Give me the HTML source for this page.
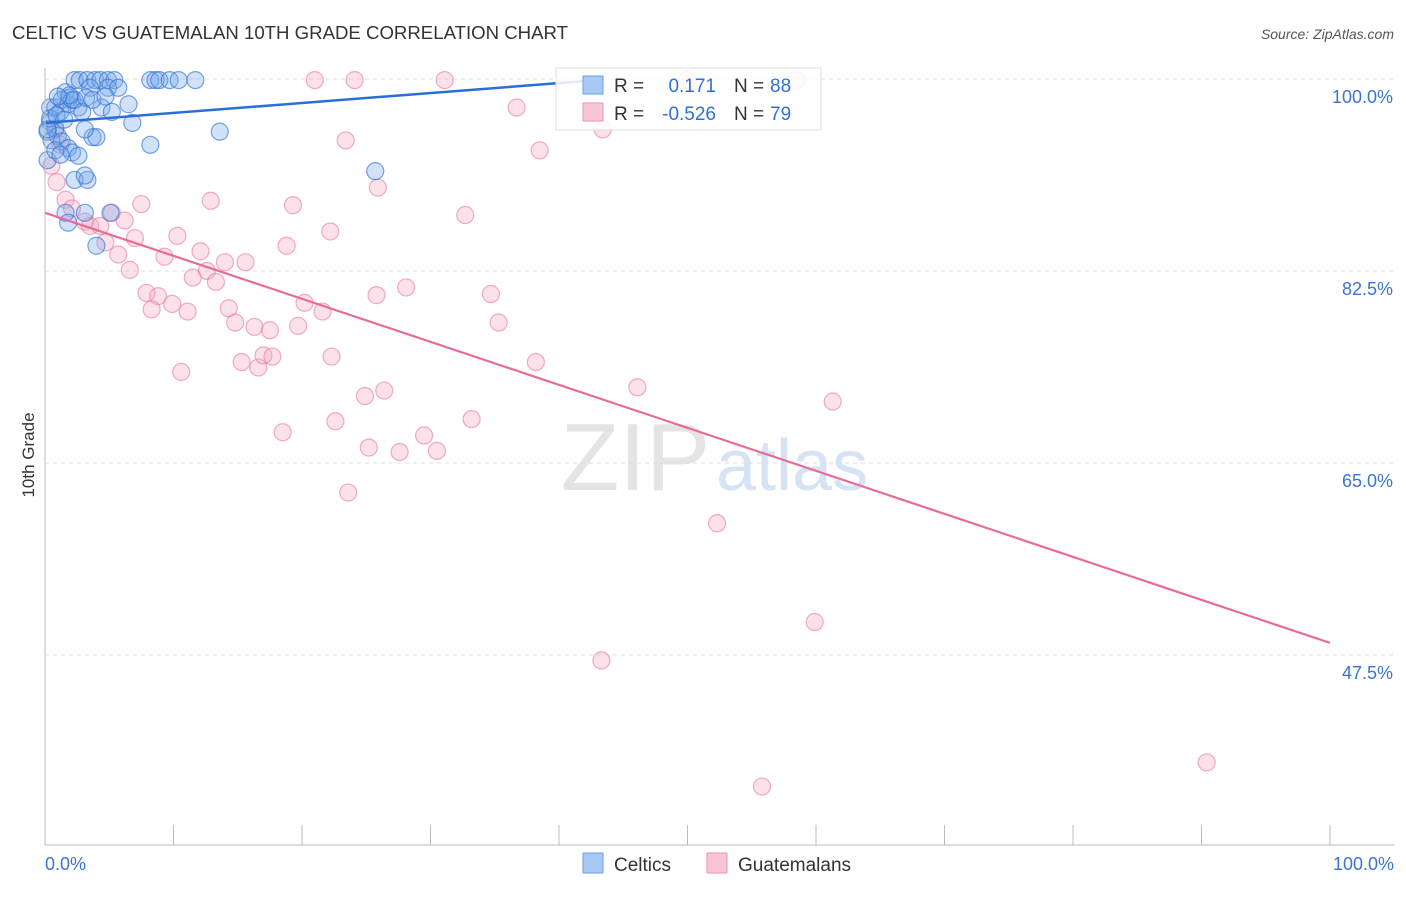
<!DOCTYPE html>
<html><head><meta charset="utf-8"><style>
body{margin:0;background:#fff;font-family:"Liberation Sans",sans-serif}
svg text{font-family:"Liberation Sans",sans-serif}
</style></head><body>
<svg width="1406" height="892" xmlns="http://www.w3.org/2000/svg">
<text x="12" y="39" font-size="18" fill="#333" textLength="556" lengthAdjust="spacingAndGlyphs">CELTIC VS GUATEMALAN 10TH GRADE CORRELATION CHART</text>
<text x="1394" y="39" font-size="14" fill="#555" font-style="italic" text-anchor="end">Source: ZipAtlas.com</text>
<text x="710" y="490" font-size="96" fill="#e4e4e4" text-anchor="end" font-family="Liberation Serif">ZIP</text>
<text x="716" y="490" font-size="72" fill="#d6e3f5">atlas</text>
<g id="grid"></g><g id="pts"></g><g id="lines"></g><g id="axes"></g>
<text x="34" y="455" font-size="17" fill="#333" transform="rotate(-90 34 455)" text-anchor="middle">10th Grade</text>
<g>
<rect x="556" y="68" width="265" height="62" fill="rgba(255,255,255,0.85)" stroke="#ddd"/>
<rect x="583" y="76" width="20" height="18" fill="#a8c8f5" stroke="#6a9ee8"/>
<rect x="583" y="103" width="20" height="18" fill="#f9c4d4" stroke="#ee93ae"/>
<text x="614" y="92" font-size="19" fill="#333">R = </text><text x="716" y="92" font-size="19" fill="#2f6fd6" text-anchor="end">0.171</text>
<text x="734" y="92" font-size="19" fill="#333">N = </text><text x="770" y="92" font-size="19" fill="#2f6fd6">88</text>
<text x="614" y="120" font-size="19" fill="#333">R = </text><text x="716" y="120" font-size="19" fill="#2f6fd6" text-anchor="end">-0.526</text>
<text x="734" y="120" font-size="19" fill="#333">N = </text><text x="770" y="120" font-size="19" fill="#2f6fd6">79</text>
</g>
<g>
<rect x="583" y="853" width="20" height="20" fill="#a8c8f5" stroke="#6a9ee8"/>
<text x="614" y="871" font-size="19" fill="#333">Celtics</text>
<rect x="707" y="853" width="20" height="20" fill="#f9c4d4" stroke="#ee93ae"/>
<text x="738" y="871" font-size="19" fill="#333">Guatemalans</text>
</g>
<text x="45" y="870" font-size="18" fill="#3b73d4">0.0%</text>
<text x="1394" y="870" font-size="18" fill="#3b73d4" text-anchor="end">100.0%</text>
</svg>
<script>
const yTicks=[100,82.5,65,47.5];
const yTickLabels=["100.0%","82.5%","65.0%","47.5%"];
const celticX=[0.4,0.8,1.2,1.6,1.9,2.3,2.7,3.3,3.9,4.3,4.9,5.4,8.2,8.6,8.9,9.7,10.4,11.7,1.3,1.8,2.1,2.6,2.9,3.5,4.4,4.9,5.7,6.5,5.2,6.8,0.4,0.8,0.2,1.0,0.5,1.3,1.8,2.1,2.6,3.7,4.0,3.1,8.2,13.6,25.7,2.3,3.3,3.1,1.6,1.8,3.1,4.0,5.1,0.2,0.8,1.2,0.4,0.2,0.9,1.5,2.3,3.2,3.7,4.7,1.9,1.0];
const celticY=[97.4,97.4,97.0,98.8,98.3,99.9,99.9,99.9,99.9,99.9,99.9,99.9,99.9,99.9,99.9,99.9,99.9,99.9,98.1,97.7,98.1,97.4,97.0,99.2,97.4,99.2,99.2,97.7,97.0,96.0,96.1,95.5,95.2,94.8,94.4,94.3,93.7,93.3,93.0,94.7,94.7,95.4,94.0,95.2,91.6,90.8,90.8,91.2,87.8,86.9,87.8,84.8,87.8,92.6,93.5,93.1,96.4,95.4,96.7,96.3,98.1,98.3,98.1,98.4,98.5,98.4];
const guatX=[21.0,24.1,31.1,58.5,50.0,36.7,43.4,23.4,38.5,25.9,19.3,12.9,7.5,32.7,22.2,10.3,18.8,12.1,9.3,14.0,15.6,12.6,11.5,13.3,6.6,28.1,25.8,34.7,7.9,8.8,9.9,8.3,11.1,20.2,21.6,14.3,14.8,16.3,17.5,19.7,35.3,22.3,15.3,16.6,17.0,17.7,38.2,10.6,46.1,26.4,24.9,61.3,33.2,22.6,18.5,29.5,25.2,27.6,30.5,23.6,52.3,59.9,43.3,55.8,90.4,0.9,0.5,1.6,2.1,3.1,3.5,4.3,4.7,5.2,5.7,6.2,7.0,1.2,0.8];
const guatY=[99.9,99.9,99.9,99.9,99.9,97.4,95.4,94.4,93.5,90.1,88.5,88.9,88.6,87.6,86.1,85.7,84.8,84.3,83.8,83.3,83.3,82.5,81.9,81.5,82.6,81.0,80.3,80.4,80.5,80.2,79.5,79.0,78.8,79.6,78.8,79.1,77.8,77.4,77.1,77.5,77.8,74.7,74.2,73.7,74.8,74.7,74.2,73.3,71.9,71.6,71.1,70.6,69.0,68.8,67.8,67.5,66.4,66.0,66.1,62.3,59.5,50.5,47.0,35.5,37.7,90.6,92.1,89.0,88.2,87.0,86.6,86.6,85.1,87.8,84.0,87.1,85.5,94.0,95.4];
const celticTrend=[0,96.0,43,99.9];
const guatTrend=[0,87.8,100,48.6];
const NS="http://www.w3.org/2000/svg";
const xs=v=>45+v*12.85, ys=v=>79+(100-v)*10.97;
function mk(t,a,p){const e=document.createElementNS(NS,t);for(const k in a)e.setAttribute(k,a[k]);p.appendChild(e);return e;}
const grid=document.getElementById('grid');
yTicks.forEach((t,i)=>{
 const l=mk('line',{x1:45,x2:1395,y1:ys(t),y2:ys(t),stroke:'#ddd','stroke-dasharray':'4 4'},grid);
 
 
 const tx=mk('text',{x:1393,y:ys(t)+24,'font-size':18,fill:'#3b73d4','text-anchor':'end'},grid);
 tx.textContent=yTickLabels[i];
 
 
});
const pts=document.getElementById('pts');
guatX.forEach((x,i)=>{
 const c=mk('circle',{cx:xs(x),cy:ys(guatY[i]),r:8.5,fill:'rgba(246,168,192,0.35)',stroke:'rgba(232,120,155,0.6)','stroke-width':1.2},pts);
 
 
});
celticX.forEach((x,i)=>{
 const c=mk('circle',{cx:xs(x),cy:ys(celticY[i]),r:8.5,fill:'rgba(120,170,235,0.35)',stroke:'rgba(50,115,215,0.65)','stroke-width':1.2},pts);
 
 
});
const lines=document.getElementById('lines');
const l1=mk('line',{x1:xs(celticTrend[0]),y1:ys(celticTrend[1]),x2:xs(celticTrend[2]),y2:ys(celticTrend[3]),stroke:'#2a6fd6','stroke-width':2.5},lines);


const l2=mk('line',{x1:xs(guatTrend[0]),y1:ys(guatTrend[1]),x2:xs(guatTrend[2]),y2:ys(guatTrend[3]),stroke:'#e8699a','stroke-width':2.2},lines);


const ax=document.getElementById('axes');
const ya=mk('line',{x1:45,x2:45,y1:68,y2:845,stroke:'#bbb'},ax);


const xa=mk('line',{x1:45,x2:1395,y1:845,y2:845,stroke:'#bbb'},ax);


for(let i=1;i<=10;i++){
 const t=mk('line',{x1:xs(i*10),x2:xs(i*10),y1:825,y2:845,stroke:'#bbb'},ax);
 
 
}
</script>
</body></html>
